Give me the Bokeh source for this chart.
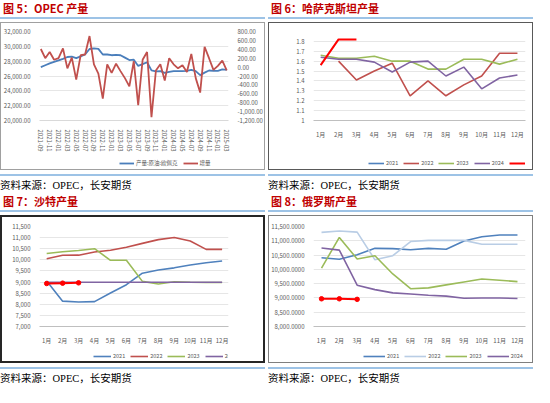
from math import nan

from bokeh.plotting import figure
from bokeh.models import (Range1d, LinearAxis, FixedTicker, SingleIntervalTicker,
                          NumeralTickFormatter, Legend, LegendItem, Div)
from bokeh.layouts import gridplot
from bokeh.embed import file_html
from bokeh.resources import INLINE

# ---------------- data ----------------
# 图5: OPEC 产量 (monthly, 2021-09 .. 2025-03)
opec_months = [f"{y}-{m:02d}" for y in range(2021, 2026) for m in range(1, 13)][8:51]
opec_prod = [27200, 27450, 27700, 27900, 28100, 28300, 28560, 28600, 28400, 28650,
             28900, 29640, 29720, 29650, 28900, 28900, 28800, 28850, 28800, 28480,
             28150, 28200, 27360, 27600, 27860, 26750, 26620, 26650, 26410, 26550,
             26660, 26650, 26650, 26680, 26830, 26650, 26120, 26450, 26740, 26680,
             26700, 26900, 26830]
opec_delta = [407, 200, 338, 165, 200, 420, -28, 214, -283, 269,
              283, 697, 62, -145, -710, 62, -131, 76, -90, -248,
              -434, 131, -855, 165, 338, -1124, -76, 62, -303, 200,
              62, -28, 41, -110, 297, -248, -572, 455, 200, -62,
              28, 145, -76]

months = ["1月", "2月", "3月", "4月", "5月", "6月", "7月", "8月", "9月", "10月", "11月", "12月"]
month_x = list(range(1, 13))
years = ["2021", "2022", "2023", "2024", "2025"]

# 图6: 哈萨克斯坦产量
kz_2021 = []
kz_2022 = [nan, 1.60, 1.41, 1.50, 1.58, 1.25, 1.40, 1.25, 1.36, 1.45, 1.68, 1.68]
kz_2023 = [1.66, 1.63, 1.63, 1.65, 1.60, 1.60, 1.52, 1.52, 1.62, 1.62, 1.57, 1.62]
kz_2024 = [1.64, 1.62, 1.62, 1.59, 1.49, 1.59, 1.60, 1.45, 1.54, 1.32, 1.43, 1.46]
kz_2025 = [1.56, 1.82, 1.82]

# 图7: 沙特产量
sa_2021 = [9050, 8140, 8100, 8120, 8510, 8880, 9400, 9540, 9640, 9765, 9870, 9950]
sa_2022 = [10045, 10205, 10210, 10350, 10430, 10565, 10740, 10910, 11005, 10845, 10470, 10470]
sa_2023 = [10285, 10365, 10420, 10500, 9980, 9980, 9030, 8910, 9015, 8990, 8980, 8980]
sa_2024 = [8990, 8990, 8990, 8990, 8990, 8990, 8990, 8990, 8990, 8990, 8990, 8990]
sa_2025 = [8935, 8950, 8965]

# 图8: 俄罗斯产量
ru_2021 = [10406, 10354, 10509, 10736, 10725, 10684, 10736, 10705, 10994, 11139, 11200, 11200]
ru_2022 = [11294, 11345, 11304, 10333, 10478, 10973, 11015, 11015, 11015, 10880, 10880, 10880]
ru_2023 = [10044, 11118, 10364, 10478, 9838, 9322, 9353, 9456, 9560, 9662, 9621, 9570]
ru_2024 = [10746, 10674, 9446, 9291, 9177, 9136, 9094, 9063, 8991, 9000, 9000, 8980]
ru_2025 = [8970, 8970, 8950]

FONT = "Noto Sans CJK SC"
W = 265
H = 132   # chart part of each box
LH = 16   # legend strip at the bottom of each box
BLUE_RULE = "#9dc3e6"


def title_div(txt):
    return Div(text=f'<div style="font:bold 11px \'{FONT}\';color:#c00000;'
                    f'border-bottom:2px solid {BLUE_RULE};padding:2px 0 2px 3px;'
                    f'line-height:13px;width:{W}px">{txt}</div>',
               width=W, height=22, margin=0)


def foot_div():
    return Div(text=f'<div style="margin-top:4px;border-top:2px solid {BLUE_RULE};'
                    f'padding-top:3px;font:10.5px \'Liberation Serif\',\'{FONT}\';'
                    f'line-height:13px;width:{W}px">资料来源：OPEC，长安期货</div>',
               width=W, height=23, margin=0)


def box_sides(p, sides, border, w):
    # grey box around chart + legend, drawn as inset shadows behind transparent canvases
    parts = []
    if "l" in sides:
        parts.append(f"inset {w}px 0 0 {border}")
    if "r" in sides:
        parts.append(f"inset -{w}px 0 0 {border}")
    if "t" in sides:
        parts.append(f"inset 0 {w}px 0 {border}")
    if "b" in sides:
        parts.append(f"inset 0 -{w}px 0 {border}")
    p.styles = {"box-shadow": ", ".join(parts)}
    p.border_fill_color = None
    p.background_fill_color = None
    p.outline_line_color = None


def style(p, border, width=1):
    box_sides(p, "lrt", border, width)
    p.xgrid.grid_line_color = None
    p.ygrid.grid_line_color = "#e6e6e6"
    for ax in p.axis:
        ax.major_label_text_font = FONT
        ax.major_label_text_font_size = "6px"
        ax.major_label_text_color = "#595959"
        ax.major_tick_line_color = None
        ax.minor_tick_line_color = None
        ax.axis_line_color = None
        ax.major_label_standoff = 3
    p.xaxis.axis_line_color = "#bfbfbf"


def legend_fig(entries, x, glyph_w, border, width=1):
    # the series are re-plotted here outside the (0..1) ranges, so only the legend shows
    q = figure(width=W, height=LH, x_range=Range1d(0, 1), y_range=Range1d(0, 1),
               output_backend="svg", toolbar_location=None, x_axis_type=None,
               y_axis_type=None, min_border_left=0, min_border_right=0,
               min_border_top=0, min_border_bottom=0)
    box_sides(q, "lrb", border, width)
    items = []
    for label, color, lw, marker, xs, vals in entries:
        if not vals:
            vals = [nan]
            xs = xs[:1]
        rs = [q.line(xs, vals, color=color, line_width=lw)]
        if marker:
            rs.append(q.scatter(xs, vals, size=4.5, color=color))
        items.append(LegendItem(label=label, renderers=rs))
    q.add_layout(Legend(items=items, orientation="horizontal", location=(x, 3),
                        label_text_font=FONT, label_text_font_size="5.5px",
                        label_text_color="#595959", glyph_width=glyph_w, glyph_height=6,
                        label_height=6, label_width=8, label_standoff=2, spacing=5,
                        padding=2, margin=0, border_line_color=None,
                        background_fill_alpha=0))
    return q


def make_fig(yr, xr, left, right, top, bottom):
    return figure(width=W, height=H, x_range=xr, y_range=yr, output_backend="svg",
                  toolbar_location=None, min_border_left=left, min_border_right=right,
                  min_border_top=top, min_border_bottom=bottom)


# ---------------- 图5 ----------------
x1 = list(range(len(opec_months)))
p1 = make_fig(Range1d(20000, 32000), Range1d(-0.3, 42.4), 34, 34, 9, 30)
p1.extra_y_ranges = {"delta": Range1d(-1200, 800)}
p1.line(x1, opec_prod, color="#4a7ebb", line_width=1.8)
p1.line(x1, opec_delta, color="#c0504d", line_width=1.8, y_range_name="delta")
p1.add_layout(LinearAxis(y_range_name="delta"), "right")
p1.yaxis[0].ticker = SingleIntervalTicker(interval=2000, num_minor_ticks=0)
p1.yaxis[1].ticker = SingleIntervalTicker(interval=200, num_minor_ticks=0)
p1.yaxis[0].formatter = NumeralTickFormatter(format="0,0.00")
p1.yaxis[1].formatter = NumeralTickFormatter(format="0,0.00")
p1.xaxis.ticker = FixedTicker(ticks=x1[::2])
p1.xaxis.major_label_overrides = {i: opec_months[i] for i in x1[::2]}
p1.xaxis.major_label_orientation = "vertical"
style(p1, "#a0a0a0")
p1.xaxis.axis_line_color = "#d9d9d9"
l1 = legend_fig([("产量:原油:欧佩克", "#4a7ebb", 1.8, False, x1, opec_prod),
                 ("增量", "#c0504d", 1.8, False, x1, opec_delta)], 80, 15, "#a0a0a0")


def year_chart(p, series, colors, marker_2025):
    entries = []
    for yr, vals, c in zip(years, series, colors):
        xs = month_x[:len(vals)]
        lw = 2 if yr == "2025" else 1.6
        p.line(xs, vals, color=c, line_width=lw)
        mk = yr == "2025" and marker_2025
        if mk:
            p.scatter(xs, vals, size=4.5, color=c)
        entries.append((yr, c, lw, mk, month_x[:max(len(vals), 1)], vals))
    p.xaxis.ticker = FixedTicker(ticks=month_x)
    p.xaxis.major_label_overrides = dict(zip(month_x, months))
    return entries


# ---------------- 图6 ----------------
p2 = make_fig(Range1d(1, 1.9), Range1d(0.6, 12.45), 20, 8, 8, 14)
e2 = year_chart(p2, [kz_2021, kz_2022, kz_2023, kz_2024, kz_2025],
                ["#4f81bd", "#c0504d", "#9bbb59", "#8064a2", "#ff0000"], False)
p2.yaxis.ticker = SingleIntervalTicker(interval=0.1, num_minor_ticks=0)
p2.yaxis.formatter = NumeralTickFormatter(format="0.[0]")
style(p2, "#595959")
l2 = legend_fig(e2, 55, 16, "#595959")

# ---------------- 图7 ----------------
p3 = make_fig(Range1d(7000, 11500), Range1d(0.55, 12.4), 27, 7, 9, 14)
e3 = year_chart(p3, [sa_2021, sa_2022, sa_2023, sa_2024, sa_2025],
                ["#4f81bd", "#c0504d", "#9bbb59", "#8064a2", "#ff0000"], True)
p3.yaxis.ticker = SingleIntervalTicker(interval=500, num_minor_ticks=0)
p3.yaxis.formatter = NumeralTickFormatter(format="0,0")
style(p3, "#262626", 2)
l3 = legend_fig(e3, 54, 18, "#262626", 2)

# ---------------- 图8 ----------------
p4 = make_fig(Range1d(8000, 11500), Range1d(0.55, 12.45), 44, 8, 11, 14)
e4 = year_chart(p4, [ru_2021, ru_2022, ru_2023, ru_2024, ru_2025],
                ["#4f81bd", "#b9cde5", "#9bbb59", "#8064a2", "#ff0000"], True)
p4.yaxis.ticker = SingleIntervalTicker(interval=500, num_minor_ticks=0)
p4.yaxis.formatter = NumeralTickFormatter(format="0,0.0000")
style(p4, "#7f7f7f")
l4 = legend_fig(e4, 50, 22, "#7f7f7f")

grid = gridplot([
    [title_div("图 5：OPEC 产量"), title_div("图 6：哈萨克斯坦产量")],
    [p1, p2],
    [l1, l2],
    [foot_div(), foot_div()],
    [title_div("图 7：沙特产量"), title_div("图 8：俄罗斯产量")],
    [p3, p4],
    [l3, l4],
    [foot_div(), foot_div()],
], toolbar_location=None)
grid.spacing = (0, 3)

open("out.html", "w").write(file_html(grid, INLINE))
